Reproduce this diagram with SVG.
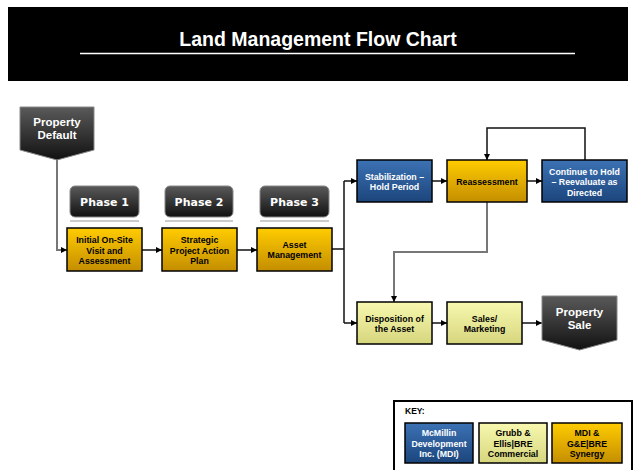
<svg xmlns="http://www.w3.org/2000/svg" width="636" height="470" viewBox="0 0 636 470">
<defs>
<linearGradient id="gOr" x1="0" y1="0" x2="0" y2="1"><stop offset="0" stop-color="#FFCC00"/><stop offset="1" stop-color="#C48E00"/></linearGradient>
<linearGradient id="gBl" x1="0" y1="0" x2="0" y2="1"><stop offset="0" stop-color="#3C72B4"/><stop offset="1" stop-color="#1C457C"/></linearGradient>
<linearGradient id="gYl" x1="0" y1="0" x2="0" y2="1"><stop offset="0" stop-color="#F8F8B0"/><stop offset="1" stop-color="#D6D67E"/></linearGradient>
<linearGradient id="gDk" x1="0" y1="0" x2="0" y2="1"><stop offset="0" stop-color="#5A5A5A"/><stop offset="1" stop-color="#111111"/></linearGradient>
<marker id="arr" viewBox="0 0 10 10" refX="10" refY="5" markerWidth="6" markerHeight="6" orient="auto" markerUnits="userSpaceOnUse"><path d="M0,0 L10,5 L0,10 z" fill="#000"/></marker>
</defs>
<style>
text{font-family:"Liberation Sans",Arial,sans-serif;font-weight:bold;text-anchor:middle}
.box{stroke:#000;stroke-width:1.5}
.or{fill:url(#gOr)}
.bl{fill:url(#gBl)}
.yl{fill:url(#gYl)}
.dk{fill:url(#gDk);stroke:#888;stroke-width:1}
.t{font-size:8.8px;fill:#000}
.tw{font-size:8.8px;fill:#fff}
.tp{font-size:11.5px;fill:#fff}
.ph{font-family:"DejaVu Sans",Verdana,sans-serif;font-size:11px;fill:#fff}
.sh{stroke:#ccc;stroke-width:2}
.c{fill:none;stroke:#111;stroke-width:1.5}
.cg{fill:none;stroke:#777;stroke-width:2}
</style>
<rect x="0" y="0" width="636" height="470" fill="#fff"/>
<g id="header">
<rect x="8" y="7" width="620" height="74" fill="#000"/>
<text x="318" y="46" style="font-size:19.5px;fill:#fff">Land Management Flow Chart</text>
<line x1="80" y1="53.5" x2="575" y2="53.5" stroke="#fff" stroke-width="1.5"/>
</g>
<g id="connectors">
<polyline class="cg" points="57,160 57,250 67,250" marker-end="url(#arr)"/>
<line class="c" x1="142" y1="250" x2="162" y2="250" marker-end="url(#arr)"/>
<line class="c" x1="237" y1="250" x2="257" y2="250" marker-end="url(#arr)"/>
<line class="c" x1="332" y1="249" x2="344" y2="249"/>
<polyline class="c" points="344,181 344,323"/>
<line class="c" x1="344" y1="181" x2="357" y2="181" marker-end="url(#arr)"/>
<line class="c" x1="344" y1="323" x2="357" y2="323" marker-end="url(#arr)"/>
<line class="c" x1="432" y1="181" x2="447" y2="181" marker-end="url(#arr)"/>
<line class="c" x1="527" y1="181" x2="542" y2="181" marker-end="url(#arr)"/>
<polyline class="c" points="585,160 585,128 487,128 487,160" marker-end="url(#arr)"/>
<polyline class="cg" points="487,202 487,252 394,252 394,302" marker-end="url(#arr)"/>
<line class="c" x1="432" y1="323" x2="447" y2="323" marker-end="url(#arr)"/>
<line class="c" x1="522" y1="323" x2="542" y2="323" marker-end="url(#arr)"/>
</g>
<g id="property-default">
<path class="dk" d="M20,107 H94 V150 L57,160 L20,150 Z"/>
<text class="tp" x="57" y="126">Property</text>
<text class="tp" x="57" y="139">Default</text>
</g>
<g id="phase1">
<line class="sh" x1="70" y1="221" x2="139" y2="221"/>
<rect class="dk" x="70" y="186" width="69" height="31" rx="5"/>
<text class="ph" x="104.5" y="206">Phase 1</text>
</g>
<g id="phase2">
<line class="sh" x1="165" y1="221" x2="233" y2="221"/>
<rect class="dk" x="165" y="186" width="68" height="31" rx="5"/>
<text class="ph" x="199" y="206">Phase 2</text>
</g>
<g id="phase3">
<line class="sh" x1="260" y1="221" x2="329" y2="221"/>
<rect class="dk" x="260" y="186" width="69" height="31" rx="5"/>
<text class="ph" x="294.5" y="206">Phase 3</text>
</g>
<g id="initial">
<rect class="box or" x="67" y="228" width="75" height="43"/>
<text class="t" x="104.5" y="243">Initial On-Site</text>
<text class="t" x="104.5" y="253.5">Visit and</text>
<text class="t" x="104.5" y="264">Assessment</text>
</g>
<g id="strategic">
<rect class="box or" x="162" y="228" width="75" height="43"/>
<text class="t" x="199.5" y="243">Strategic</text>
<text class="t" x="199.5" y="253.5">Project Action</text>
<text class="t" x="199.5" y="264">Plan</text>
</g>
<g id="asset">
<rect class="box or" x="257" y="228" width="75" height="43"/>
<text class="t" x="294.5" y="247.5">Asset</text>
<text class="t" x="294.5" y="258">Management</text>
</g>
<g id="stabilization">
<rect class="box bl" x="357" y="160" width="75" height="42"/>
<text class="tw" x="394.5" y="179.5">Stabilization –</text>
<text class="tw" x="394.5" y="190">Hold Period</text>
</g>
<g id="reassessment">
<rect class="box or" x="447" y="160" width="80" height="42"/>
<text class="t" x="487" y="184.5">Reassessment</text>
</g>
<g id="continue">
<rect class="box bl" x="542" y="160" width="85" height="42"/>
<text class="tw" x="584.5" y="174.5">Continue to Hold</text>
<text class="tw" x="584.5" y="185">– Reevaluate as</text>
<text class="tw" x="584.5" y="195.5">Directed</text>
</g>
<g id="disposition">
<rect class="box yl" x="357" y="302" width="75" height="42"/>
<text class="t" x="394.5" y="321.5">Disposition of</text>
<text class="t" x="394.5" y="332">the Asset</text>
</g>
<g id="sales">
<rect class="box yl" x="447" y="302" width="75" height="42"/>
<text class="t" x="484.5" y="321.5">Sales/</text>
<text class="t" x="484.5" y="332">Marketing</text>
</g>
<g id="property-sale">
<path class="dk" d="M542,296 H617 V340 L579.5,350 L542,340 Z"/>
<text class="tp" x="579.5" y="316">Property</text>
<text class="tp" x="579.5" y="329">Sale</text>
</g>
<g id="key">
<rect x="394" y="401" width="238" height="72" fill="#fff" stroke="#000" stroke-width="2"/>
<text x="405" y="414" style="font-size:8.5px;fill:#000;text-anchor:start">KEY:</text>
<rect class="box bl" x="405" y="423" width="68" height="40" stroke-width="1"/>
<text class="tw" x="439" y="436">McMillin</text>
<text class="tw" x="439" y="446.5">Development</text>
<text class="tw" x="439" y="457">Inc. (MDI)</text>
<rect class="box yl" x="479" y="423" width="68" height="40" stroke-width="1"/>
<text class="t" x="513" y="436">Grubb &amp;</text>
<text class="t" x="513" y="446.5">Ellis|BRE</text>
<text class="t" x="513" y="457">Commercial</text>
<rect class="box or" x="552" y="423" width="70" height="40" stroke-width="1"/>
<text class="t" x="587" y="436">MDI &amp;</text>
<text class="t" x="587" y="446.5">G&amp;E|BRE</text>
<text class="t" x="587" y="457">Synergy</text>
</g>
</svg>
